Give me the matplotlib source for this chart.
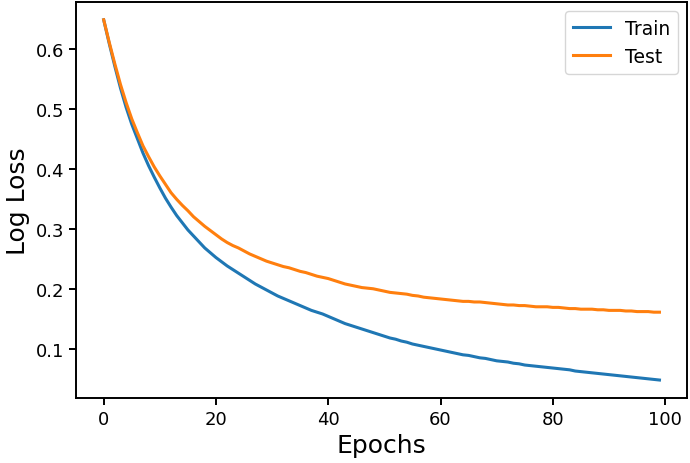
import matplotlib
matplotlib.use('Agg')
import matplotlib.pyplot as plt

# Log loss per epoch
train_loss = [0.648, 0.608, 0.570, 0.534, 0.502, 0.474, 0.450, 0.426, 0.405, 0.386,
              0.368, 0.351, 0.336, 0.322, 0.310, 0.298, 0.288, 0.278, 0.268, 0.260,
              0.252, 0.245, 0.238, 0.232, 0.226, 0.220, 0.214, 0.208, 0.203, 0.198,
              0.193, 0.188, 0.184, 0.180, 0.176, 0.172, 0.168, 0.164, 0.161, 0.158,
              0.154, 0.150, 0.146, 0.142, 0.139, 0.136, 0.133, 0.130, 0.127, 0.124,
              0.121, 0.118, 0.116, 0.113, 0.111, 0.108, 0.106, 0.104, 0.102, 0.100,
              0.098, 0.096, 0.094, 0.092, 0.090, 0.089, 0.087, 0.085, 0.084, 0.082,
              0.080, 0.079, 0.078, 0.076, 0.075, 0.073, 0.072, 0.071, 0.070, 0.069,
              0.068, 0.067, 0.066, 0.065, 0.063, 0.062, 0.061, 0.060, 0.059, 0.058,
              0.057, 0.056, 0.055, 0.054, 0.053, 0.052, 0.051, 0.050, 0.049, 0.048]

test_loss = [0.648, 0.610, 0.574, 0.540, 0.510, 0.483, 0.460, 0.438, 0.420, 0.403,
             0.388, 0.374, 0.360, 0.349, 0.339, 0.330, 0.320, 0.312, 0.304, 0.297,
             0.290, 0.283, 0.277, 0.272, 0.268, 0.263, 0.258, 0.254, 0.250, 0.246,
             0.243, 0.240, 0.237, 0.235, 0.232, 0.229, 0.227, 0.224, 0.221, 0.219,
             0.217, 0.214, 0.211, 0.208, 0.206, 0.204, 0.202, 0.201, 0.200, 0.198,
             0.196, 0.194, 0.193, 0.192, 0.191, 0.189, 0.188, 0.186, 0.185, 0.184,
             0.183, 0.182, 0.181, 0.180, 0.179, 0.179, 0.178, 0.178, 0.177, 0.176,
             0.175, 0.174, 0.173, 0.173, 0.172, 0.172, 0.171, 0.170, 0.170, 0.170,
             0.169, 0.169, 0.168, 0.167, 0.167, 0.166, 0.166, 0.166, 0.165, 0.165,
             0.164, 0.164, 0.164, 0.163, 0.163, 0.162, 0.162, 0.162, 0.161, 0.161]

epochs = list(range(len(train_loss)))

fig = plt.figure(figsize=(6.9, 4.64), dpi=100)
ax = fig.add_axes([0.110, 0.140, 0.886, 0.854])

ax.plot(epochs, train_loss, color='#1f77b4', linewidth=2.2, label='Train')
ax.plot(epochs, test_loss, color='#ff7f0e', linewidth=2.2, label='Test')

ax.set_xlabel('Epochs', fontsize=18)
ax.set_ylabel('Log Loss', fontsize=18)
ax.set_xticks([0, 20, 40, 60, 80, 100])
ax.set_yticks([0.1, 0.2, 0.3, 0.4, 0.5, 0.6])
ax.tick_params(labelsize=13, width=1.4, length=5)
for s in ax.spines.values():
    s.set_linewidth(1.4)

ax.legend(fontsize=13.5, loc='upper right')

fig.savefig('out.png', dpi=100)
